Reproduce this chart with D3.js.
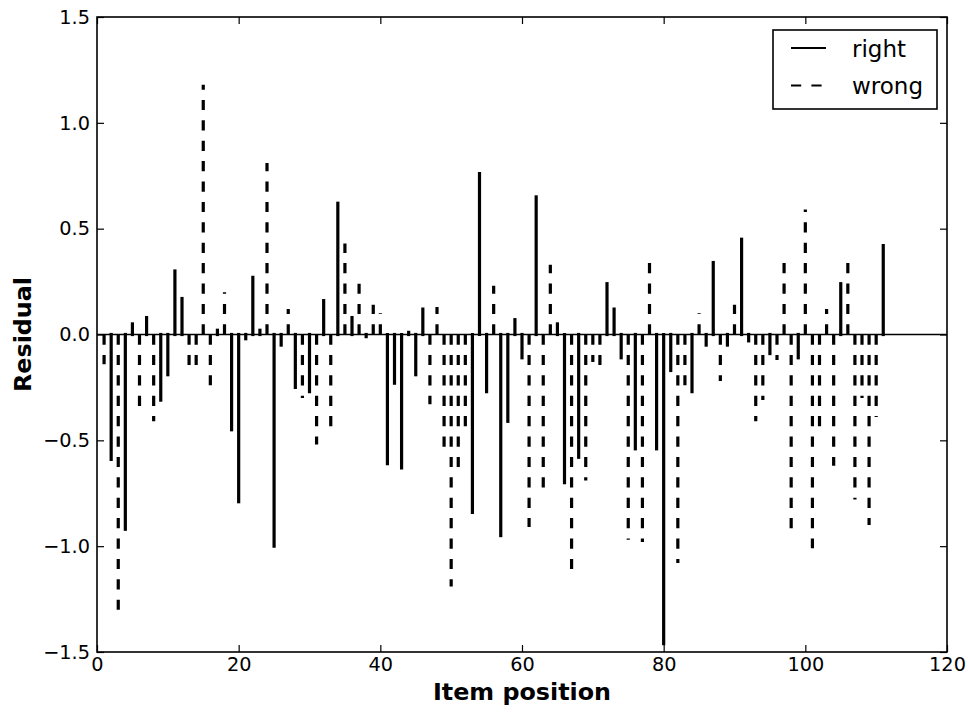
<!DOCTYPE html>
<html>
<head>
<meta charset="utf-8">
<script src="https://cdn.jsdelivr.net/npm/d3@7"></script>
<style>
  html, body { margin: 0; padding: 0; background: #fff; }
  svg { display: block; font-family: "DejaVu Sans", sans-serif; }
</style>
</head>
<body>
<svg id="chart" width="968" height="712"></svg>
<script>
// Residual per item, items numbered from 1
const residuals = [
  -0.14, -0.59, -1.30, -0.92,  0.05, -0.34,  0.08, -0.41, -0.31, -0.19,
   0.30,  0.17, -0.15, -0.15,  1.18, -0.24,  0.02,  0.20, -0.45, -0.79,
  -0.02,  0.27,  0.02,  0.81, -1.00, -0.05,  0.12, -0.25, -0.30, -0.27,
  -0.52,  0.16, -0.44,  0.62,  0.43,  0.08,  0.24, -0.01,  0.14,  0.10,
  -0.61, -0.23, -0.63,  0.01, -0.19,  0.12, -0.33,  0.13, -0.53, -1.19,
  -0.63, -0.44, -0.84,  0.76, -0.27,  0.23, -0.95, -0.41,  0.07, -0.11,
  -0.91,  0.65, -0.73,  0.33,  0.05, -0.70, -1.11, -0.58, -0.69, -0.13,
  -0.15,  0.24,  0.12, -0.11, -0.97, -0.54, -0.98,  0.34, -0.54, -1.46,
  -0.17, -1.08, -0.24, -0.27,  0.10, -0.05,  0.34, -0.22, -0.05,  0.14,
   0.45, -0.03, -0.41, -0.31, -0.09, -0.12,  0.34, -0.92, -0.11,  0.59,
  -1.01, -0.44,  0.12, -0.62,  0.24,  0.34, -0.78, -0.30, -0.90, -0.39,  0.42
];

// Whether each item was answered right (R) or wrong (W)
const outcome = [
  "W","R","W","R","R","W","R","W","R","R",
  "R","R","W","W","W","W","R","W","R","R",
  "R","R","R","W","R","R","W","R","W","R",
  "W","R","W","R","W","R","W","R","W","W",
  "R","R","R","R","R","R","W","W","W","W",
  "W","W","R","R","R","W","R","R","R","R",
  "W","R","W","W","R","R","W","R","W","W",
  "W","R","R","R","W","R","W","W","R","R",
  "R","W","W","R","W","R","R","W","R","W",
  "R","R","W","W","R","W","W","W","R","W",
  "W","W","W","W","R","W","W","W","W","W","R"
];

const xTicks = [0, 20, 40, 60, 80, 100, 120];
const yTicks = [-1.5, -1.0, -0.5, 0.0, 0.5, 1.0, 1.5];
const legendLabels = ["right", "wrong"];

const items = residuals.map((r, i) => ({ pos: i + 1, r, right: outcome[i] === "R" }));

const plotLeft = 97, plotRight = 947, plotTop = 17, plotBottom = 652;
const svg = d3.select("#chart");

const x = d3.scaleLinear().domain([0, 120]).range([plotLeft, plotRight]);
const y = d3.scaleLinear().domain([-1.5, 1.5]).range([plotBottom, plotTop]);

const dash = "10.2,10.2";
const tickFont = 19.3;

// Stems from zero to each residual: solid for right answers, dashed for wrong
svg.append("g")
  .selectAll("line")
  .data(items)
  .join("line")
  .attr("x1", d => x(d.pos))
  .attr("x2", d => x(d.pos))
  .attr("y1", y(0))
  .attr("y2", d => y(d.r))
  .attr("stroke", "#000")
  .attr("stroke-width", 3.2)
  .attr("stroke-linecap", d => d.right ? "square" : "butt")
  .attr("stroke-dasharray", d => d.right ? null : dash);

// Zero reference line
svg.append("line")
  .attr("x1", x(0)).attr("x2", x(120))
  .attr("y1", y(0)).attr("y2", y(0))
  .attr("stroke", "#000").attr("stroke-width", 1.6);

// Axes with inward ticks on all four sides
const fmt = d3.format(".1f");
function styleAxis(g) {
  g.select(".domain").remove();
  g.selectAll(".tick line").attr("stroke", "#000").attr("stroke-width", 1.2);
  g.selectAll(".tick text").attr("fill", "#000").style("font-size", tickFont + "px")
    .style("font-family", "'DejaVu Sans', sans-serif");
}
svg.append("g").attr("transform", `translate(0,${plotBottom})`)
  .call(d3.axisBottom(x).tickValues(xTicks).tickFormat(d3.format("d")).tickSizeInner(-7).tickSizeOuter(0).tickPadding(5))
  .call(styleAxis);
svg.append("g").attr("transform", `translate(0,${plotTop})`)
  .call(d3.axisTop(x).tickValues(xTicks).tickFormat("").tickSizeInner(-7).tickSizeOuter(0))
  .call(styleAxis);
svg.append("g").attr("transform", `translate(${plotLeft},0)`)
  .call(d3.axisLeft(y).tickValues(yTicks).tickFormat(fmt).tickSizeInner(-7).tickSizeOuter(0).tickPadding(7))
  .call(styleAxis);
svg.append("g").attr("transform", `translate(${plotRight},0)`)
  .call(d3.axisRight(y).tickValues(yTicks).tickFormat("").tickSizeInner(-7).tickSizeOuter(0))
  .call(styleAxis);

// Plot frame
svg.append("rect")
  .attr("x", plotLeft).attr("y", plotTop)
  .attr("width", plotRight - plotLeft).attr("height", plotBottom - plotTop)
  .attr("fill", "none").attr("stroke", "#000").attr("stroke-width", 1.6);

// Axis titles
svg.append("text")
  .attr("x", (plotLeft + plotRight) / 2).attr("y", 700)
  .attr("text-anchor", "middle")
  .style("font-size", "23.8px").style("font-weight", "bold")
  .text("Item position");
svg.append("text")
  .attr("transform", `translate(31,${(plotTop + plotBottom) / 2}) rotate(-90)`)
  .attr("text-anchor", "middle")
  .style("font-size", "23.8px").style("font-weight", "bold")
  .text("Residual");

// Legend
const legend = svg.append("g");
legend.append("rect")
  .attr("x", 773).attr("y", 30).attr("width", 164).attr("height", 79)
  .attr("fill", "#fff").attr("stroke", "#000").attr("stroke-width", 1.6);
const rows = legend.selectAll("g.row")
  .data(legendLabels)
  .join("g").attr("class", "row")
  .attr("transform", (d, i) => `translate(0,${48 + i * 37.5})`);
rows.append("line")
  .attr("x1", 791).attr("x2", 826).attr("y1", 0).attr("y2", 0)
  .attr("stroke", "#000").attr("stroke-width", 2)
  .attr("stroke-dasharray", (d, i) => i === 0 ? null : dash);
rows.append("text")
  .attr("x", 852).attr("y", 8.5)
  .style("font-size", "23px")
  .text(d => d);
</script>
</body>
</html>
